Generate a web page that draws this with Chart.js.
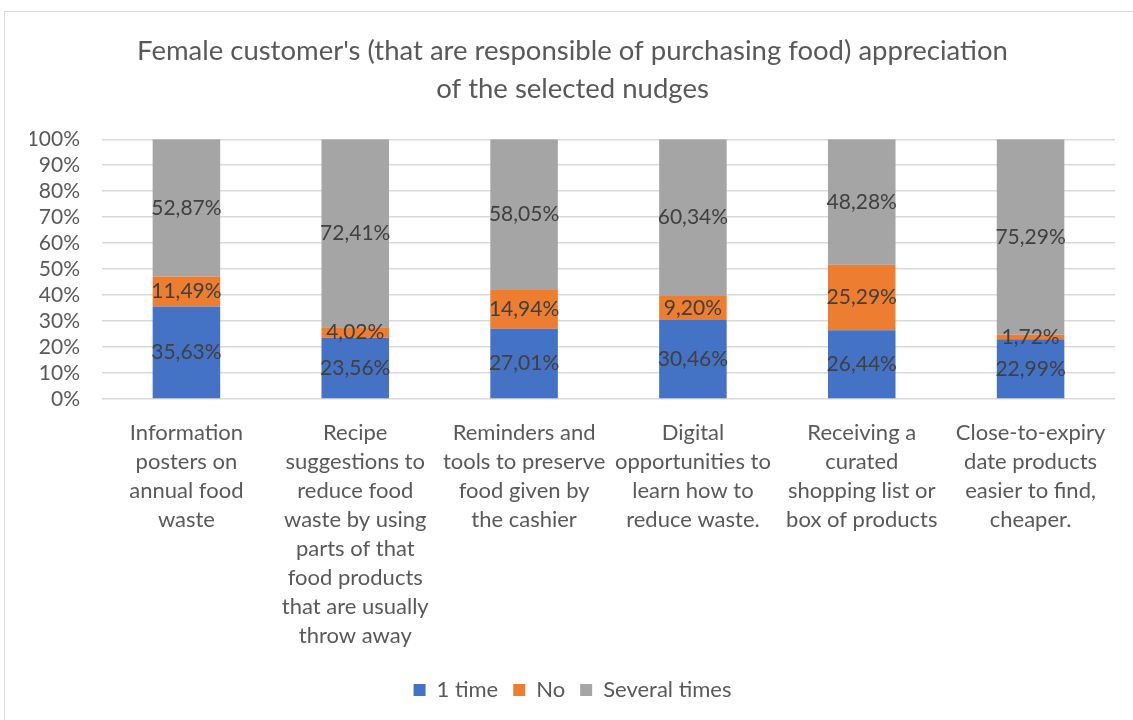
<!DOCTYPE html>
<html>
<head>
<meta charset="utf-8">
<title>Nudges appreciation</title>
<script src="https://cdn.jsdelivr.net/npm/chart.js@4.4.1/dist/chart.umd.min.js"></script>
<style>
    html, body { margin: 0; padding: 0; background: #fff; }
    #wrap { position: relative; width: 1133px; height: 720px; }
    #frame {
        position: absolute; left: 4px; top: 11px; right: -2px; bottom: -2px;
        border-left: 1px solid #d9d9d9; border-top: 1px solid #d9d9d9;
        pointer-events: none;
    }
    #nudgeChart { position: absolute; left: 0; top: 0; }
</style>
</head>
<body>
<div id="wrap">
    <canvas id="nudgeChart" width="1133" height="720"></canvas>
    <div id="frame"></div>
</div>
<script>
// Nudge categories (x axis, one array of lines per label)
const categories = [
    ["Information", "posters on", "annual food", "waste"],
    ["Recipe", "suggestions to", "reduce food", "waste by using", "parts of that", "food products", "that are usually", "throw away"],
    ["Reminders and", "tools to preserve", "food given by", "the cashier"],
    ["Digital", "opportunities to", "learn how to", "reduce waste."],
    ["Receiving a", "curated", "shopping list or", "box of products"],
    ["Close-to-expiry", "date products", "easier to find,", "cheaper."]
];

// Share of answers per nudge, in %
const oneTime      = [35.63, 23.56, 27.01, 30.46, 26.44, 22.99];
const no           = [11.49, 4.02, 14.94, 9.20, 25.29, 1.72];
const severalTimes = [52.87, 72.41, 58.05, 60.34, 48.28, 75.29];

const yTicks = [0, 10, 20, 30, 40, 50, 60, 70, 80, 90, 100];

const FONT = "Lato, 'Open Sans', sans-serif";
const GREY_TEXT = '#595959';

function pct(v) {
    return v.toFixed(2).replace('.', ',') + '%';
}

// draws the value in the middle of every stacked segment
const segmentLabels = {
    id: 'segmentLabels',
    afterDatasetsDraw(chart) {
        const ctx = chart.ctx;
        ctx.save();
        ctx.font = "21px " + FONT;
        ctx.fillStyle = '#404040';
        ctx.textAlign = 'center';
        ctx.textBaseline = 'middle';
        chart.data.datasets.forEach((ds, i) => {
            const meta = chart.getDatasetMeta(i);
            meta.data.forEach((bar, j) => {
                const mid = (bar.y + bar.base) / 2;
                ctx.fillText(pct(ds.data[j]), bar.x, mid);
            });
        });
        ctx.restore();
    }
};

const ctx = document.getElementById('nudgeChart').getContext('2d');

new Chart(ctx, {
    type: 'bar',
    data: {
        labels: categories,
        datasets: [
            { label: '1 time', data: oneTime, backgroundColor: '#4472C4' },
            { label: 'No', data: no, backgroundColor: '#ED7D31' },
            { label: 'Several times', data: severalTimes, backgroundColor: '#A5A5A5' }
        ]
    },
    options: {
        responsive: false,
        animation: false,
        layout: { padding: { top: 33, right: 18, bottom: 9, left: 30 } },
        datasets: {
            bar: { barPercentage: 0.4, categoryPercentage: 1.0 }
        },
        plugins: {
            title: {
                display: true,
                text: ["Female customer's (that are responsible of purchasing food) appreciation", "of the selected nudges"],
                color: GREY_TEXT,
                font: { family: FONT, size: 27.5, weight: 'normal', lineHeight: 1.35 },
                padding: { top: 0, bottom: 32 }
            },
            legend: {
                position: 'bottom',
                labels: {
                    color: GREY_TEXT,
                    font: { family: FONT, size: 22 },
                    boxWidth: 12,
                    boxHeight: 12,
                    padding: 15
                }
            },
            tooltip: { enabled: false }
        },
        scales: {
            x: {
                stacked: true,
                grid: { display: false },
                border: { display: false },
                ticks: {
                    color: GREY_TEXT,
                    font: { family: FONT, size: 22, lineHeight: 1.32 },
                    padding: 11,
                    maxRotation: 0,
                    autoSkip: false
                },
                afterFit(scale) { scale.height = 265; }
            },
            y: {
                stacked: true,
                min: 0,
                max: 100,
                afterBuildTicks(scale) {
                    scale.ticks = yTicks.map(v => ({ value: v }));
                },
                grid: { color: '#d9d9d9', lineWidth: 1.5, drawTicks: false },
                border: { display: false },
                ticks: {
                    color: GREY_TEXT,
                    font: { family: FONT, size: 21 },
                    padding: 22,
                    autoSkip: false,
                    callback: v => v + '%'
                },
                afterFit(scale) { scale.width = 72; }
            }
        }
    },
    plugins: [segmentLabels]
});
</script>
</body>
</html>
